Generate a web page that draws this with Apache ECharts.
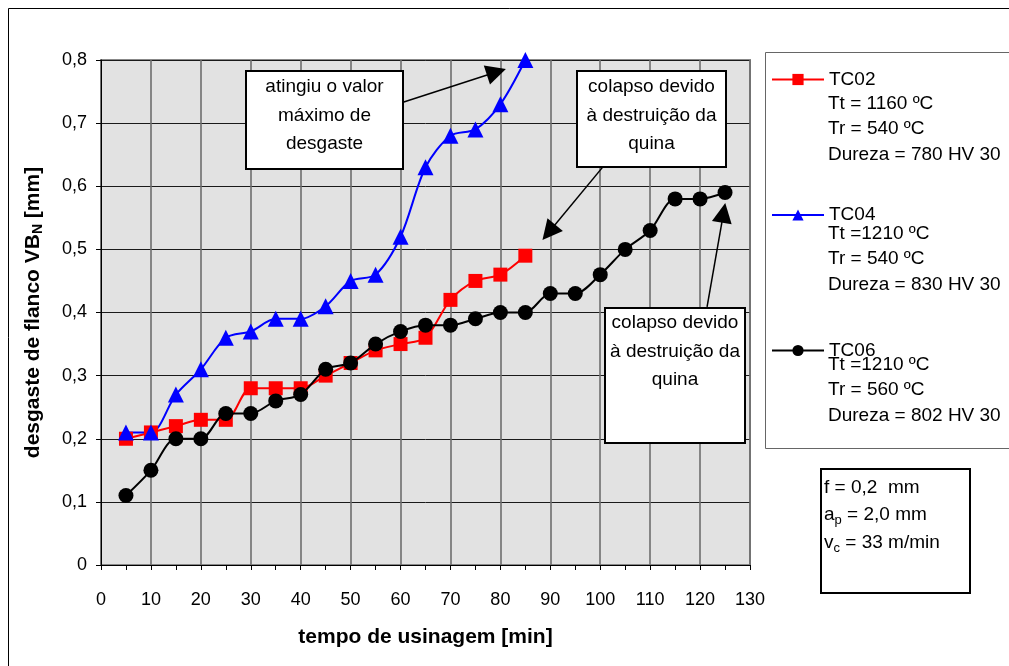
<!DOCTYPE html>
<html>
<head>
<meta charset="utf-8">
<script src="https://cdn.jsdelivr.net/npm/echarts@6/dist/echarts.min.js"></script>
<style>
  html, body { margin: 0; padding: 0; background: #fff; }
  #main { width: 1009px; height: 666px; }
</style>
</head>
<body>
<div id="main"></div>
<script>
// dados
var tempo = [5, 10, 15, 20, 25, 30, 35, 40, 45, 50, 55, 60, 65, 70, 75, 80, 85, 90, 95, 100, 105, 110, 115, 120, 125];
var tc02 = [0.20, 0.21, 0.22, 0.23, 0.23, 0.28, 0.28, 0.28, 0.30, 0.32, 0.34, 0.35, 0.36, 0.42, 0.45, 0.46, 0.49];
var tc04 = [0.21, 0.21, 0.27, 0.31, 0.36, 0.37, 0.39, 0.39, 0.41, 0.45, 0.46, 0.52, 0.63, 0.68, 0.69, 0.73, 0.80];
var tc06 = [0.11, 0.15, 0.20, 0.20, 0.24, 0.24, 0.26, 0.27, 0.31, 0.32, 0.35, 0.37, 0.38, 0.38, 0.39, 0.40, 0.40, 0.43, 0.43, 0.46, 0.50, 0.53, 0.58, 0.58, 0.59];

var legendNames = ['TC02', 'TC04', 'TC06'];
var legendInfo = [
  ['Tt = 1160 ºC', 'Tr = 540 ºC', 'Dureza = 780 HV 30'],
  ['Tt =1210 ºC', 'Tr = 540 ºC', 'Dureza = 830 HV 30'],
  ['Tt =1210 ºC', 'Tr = 560 ºC', 'Dureza = 802 HV 30']
];

function pares(ys) {
  return ys.map(function (v, i) { return [tempo[i], v]; });
}

var FONT = '"Liberation Sans", Arial, sans-serif';

// setas das caixas de texto (coordenadas do gráfico)
var setas = [
  [[60.5, 0.733], [79.2, 0.781]],
  [[101.2, 0.637], [89.7, 0.527]],
  [[121.4, 0.409], [124.7, 0.558]]
];

function caixa(x, y, w, h, linhas, yTexto) {
  return {
    type: 'group',
    children: [
      { type: 'rect', shape: { x: x, y: y, width: w, height: h },
        style: { fill: '#fff', stroke: '#000', lineWidth: 2 }, z: 100 },
      { type: 'text', z: 101,
        style: { text: linhas.join('\n'), x: x + w / 2, y: yTexto, align: 'center', verticalAlign: 'top',
                 font: '19px ' + FONT, lineHeight: 28.5, fill: '#000' } }
    ]
  };
}

var graficos = [
  { type: 'rect', shape: { x: 8.5, y: 8.5, width: 1200, height: 1000 },
    style: { fill: 'none', stroke: '#000', lineWidth: 1 }, z: -10 },
  { type: 'rect', shape: { x: 765.5, y: 52.5, width: 300, height: 396 },
    style: { fill: '#fff', stroke: '#666', lineWidth: 1 }, z: 50 },
  { type: 'rect', shape: { x: 821, y: 469, width: 149, height: 124 },
    style: { fill: '#fff', stroke: '#000', lineWidth: 2 }, z: 50 },
  { type: 'text', z: 51,
    style: { x: 824, y: 474, text: '{a|f = 0,2  mm}\n{a|a}{s|p}{a| = 2,0 mm}\n{a|v}{s|c}{a| = 33 m/min}',
      rich: {
        a: { font: '19px ' + FONT, fill: '#000', lineHeight: 27.5 },
        s: { font: '13px ' + FONT, fill: '#000', lineHeight: 27.5, verticalAlign: 'bottom', padding: [0, 0, 2, 0] }
      } } },
  caixa(246, 71, 157, 98, ['atingiu o valor', 'máximo de', 'desgaste'], 73),
  caixa(577, 71, 149, 96, ['colapso devido', 'à destruição da', 'quina'], 73),
  caixa(605, 308, 140, 135, ['colapso devido', 'à destruição da', 'quina'], 309)
];

var linhaY = [103, 233, 364];
legendInfo.forEach(function (info, k) {
  graficos.push({
    type: 'text', z: 51,
    style: { x: 828, y: linhaY[k] - 12, text: info.join('\n'), font: '19px ' + FONT,
             lineHeight: 25.5, fill: '#000', verticalAlign: 'top' }
  });
});

var option = {
  animation: false,
  textStyle: { fontFamily: FONT },
  grid: {
    left: 101, right: 259, top: 60, bottom: 101,
    show: true, backgroundColor: '#e2e2e2', borderColor: '#888', borderWidth: 2
  },
  legend: {
    data: legendNames,
    orient: 'vertical',
    left: 771, top: 70, padding: 0,
    itemWidth: 52, itemHeight: 14, itemGap: 116.5,
    textStyle: { fontSize: 19, color: '#000', fontFamily: FONT },
    z: 60
  },
  xAxis: {
    type: 'value', min: 0, max: 130, interval: 10,
    name: 'tempo de usinagem [min]', nameLocation: 'middle', nameGap: 62,
    nameTextStyle: { fontSize: 21, fontWeight: 'bold', color: '#000', fontFamily: FONT },
    axisLine: { show: true, onZero: false, lineStyle: { color: '#000', width: 1 } },
    axisTick: { show: true, length: 5, lineStyle: { color: '#000' } },
    minorTick: { show: true, splitNumber: 2, length: 5, lineStyle: { color: '#000' } },
    axisLabel: { fontSize: 18, color: '#000', margin: 26, fontFamily: FONT },
    splitLine: { show: true, lineStyle: { color: '#6e6e6e', width: 1.6 } }
  },
  yAxis: {
    type: 'value', min: 0, max: 0.8, interval: 0.1,
    name: '{a|desgaste de flanco VB}{s|N}{a| [mm]}', nameLocation: 'middle', nameGap: 56,
    nameTextStyle: {
      rich: {
        a: { fontSize: 21, fontWeight: 'bold', color: '#000', fontFamily: FONT, lineHeight: 24 },
        s: { fontSize: 14, fontWeight: 'bold', color: '#000', fontFamily: FONT, lineHeight: 24, verticalAlign: 'bottom' }
      }
    },
    axisLine: { show: true, lineStyle: { color: '#000', width: 1 } },
    axisTick: { show: true, length: 5, lineStyle: { color: '#000' } },
    axisLabel: {
      fontSize: 18, color: '#000', margin: 14, fontFamily: FONT,
      formatter: function (v) { return v === 0 ? '0' : v.toFixed(1).replace('.', ','); }
    },
    splitLine: { show: true, lineStyle: { color: '#1a1a1a', width: 1 } }
  },
  series: [
    {
      name: 'TC02', type: 'line', data: pares(tc02), smooth: 0.3,
      symbol: 'rect', symbolSize: 14,
      itemStyle: { color: '#ff0000' }, lineStyle: { color: '#ff0000', width: 2 }, z: 3
    },
    {
      name: 'TC04', type: 'line', data: pares(tc04), smooth: 0.3,
      symbol: 'triangle', symbolSize: 16,
      itemStyle: { color: '#0000ff' }, lineStyle: { color: '#0000ff', width: 2 }, z: 3,
      markLine: {
        silent: true, animation: false,
        symbol: ['none', 'triangle'], symbolSize: 20,
        label: { show: false },
        lineStyle: { color: '#000', width: 1.5, type: 'solid' },
        emphasis: { disabled: true },
        data: setas.map(function (s) { return [{ coord: s[0] }, { coord: s[1] }]; })
      }
    },
    {
      name: 'TC06', type: 'line', data: pares(tc06), smooth: 0.3,
      symbol: 'circle', symbolSize: 15,
      itemStyle: { color: '#000' }, lineStyle: { color: '#000', width: 2 }, z: 4
    }
  ],
  graphic: graficos
};

var chart = echarts.init(document.getElementById('main'));
chart.setOption(option);
</script>
</body>
</html>
